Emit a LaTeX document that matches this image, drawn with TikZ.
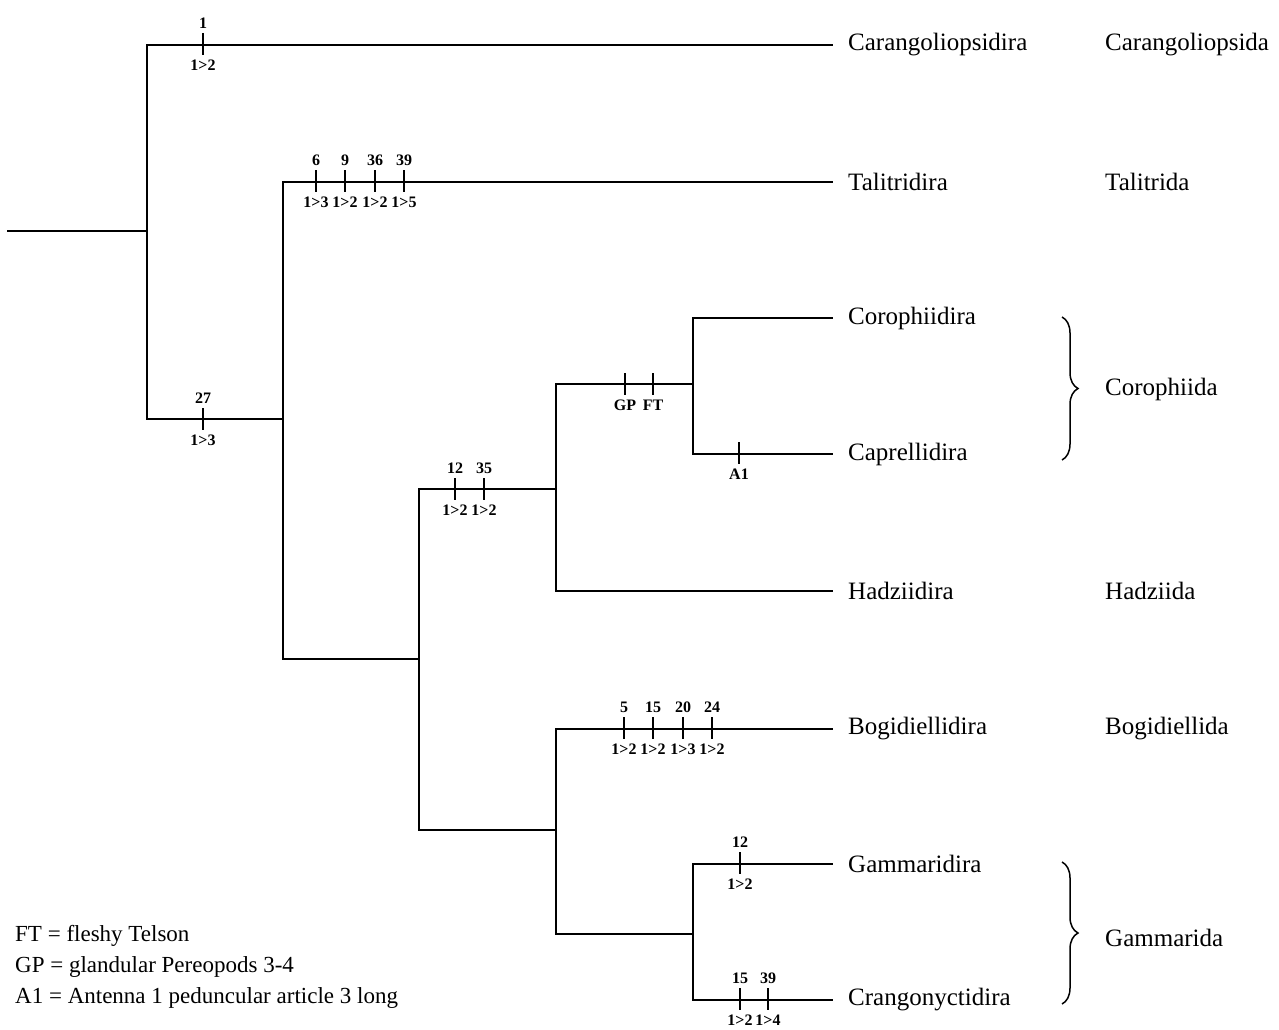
\documentclass[tikz,border=0pt]{standalone}
\usepackage{fontspec}
\setmainfont{Liberation Serif}
\usetikzlibrary{decorations.pathreplacing}
\tikzset{
  branch/.style={line width=2pt, line cap=rect},
  tickline/.style={line width=1.7pt},
  leaf/.style={anchor=west, inner xsep=16pt, inner ysep=0pt, font=\fontsize{25}{29}\selectfont},
  grp/.style={anchor=west, inner sep=0pt, font=\fontsize{25}{29}\selectfont},
  lab/.style={inner xsep=0pt, inner ysep=4.5pt, font=\fontsize{16}{18}\selectfont\bfseries},
  legend/.style={anchor=west, inner sep=0pt, font=\fontsize{23}{27}\selectfont},
  bracegrp/.style={decorate, decoration={brace, amplitude=16pt}, line width=1.5pt},
}
\newcommand\mytick[5]{%
  \draw[tickline] (#2,#3-11) -- (#2,#3+11);
  \node[lab, anchor=south] (#1a) at (#2,#3-11) {#4};
  \node[lab, anchor=north] (#1b) at (#2,#3+11) {#5};
}
\begin{document}
\begin{tikzpicture}[x=1pt, y=-1pt]
\useasboundingbox (0,0) rectangle (1279,1030);

% internal nodes
\coordinate (root) at (8,231);
\coordinate (n1) at (147,231);
\coordinate (n2) at (283,419);
\coordinate (n3) at (419,659);
\coordinate (n4) at (556,489);
\coordinate (n5) at (693,384);
\coordinate (n7) at (556,830);
\coordinate (n8) at (693,934);

% leaves
\node[leaf] (car) at (832,45) {Carangoliopsidira};
\node[leaf] (tal) at (832,182) {Talitridira};
\node[leaf] (cor) at (832,318) {Corophiidira};
\node[leaf] (cap) at (832,454) {Caprellidira};
\node[leaf] (had) at (832,591) {Hadziidira};
\node[leaf] (bog) at (832,729) {Bogidiellidira};
\node[leaf] (gam) at (832,864) {Gammaridira};
\node[leaf] (cra) at (832,1000) {Crangonyctidira};

% branches
\draw[branch] (root) -- (n1);
\draw[branch] (n1) |- (car.west);
\draw[branch] (n1) |- (n2);
\draw[branch] (n2) |- (tal.west);
\draw[branch] (n2) |- (n3);
\draw[branch] (n3) |- (n4);
\draw[branch] (n3) |- (n7);
\draw[branch] (n4) |- (n5);
\draw[branch] (n4) |- (had.west);
\draw[branch] (n5) |- (cor.west);
\draw[branch] (n5) |- (cap.west);
\draw[branch] (n7) |- (bog.west);
\draw[branch] (n7) |- (n8);
\draw[branch] (n8) |- (gam.west);
\draw[branch] (n8) |- (cra.west);

% character ticks
\mytick{t1}{203}{44}{1}{1>2}
\mytick{t2}{203}{419}{27}{1>3}
\mytick{t3}{316}{181}{6}{1>3}
\mytick{t4}{345}{181}{9}{1>2}
\mytick{t5}{375}{181}{36}{1>2}
\mytick{t6}{404}{181}{39}{1>5}
\mytick{t7}{455}{489}{12}{1>2}
\mytick{t8}{484}{489}{35}{1>2}
\mytick{t9}{625}{384}{}{GP}
\mytick{t10}{653}{384}{}{FT}
\mytick{t11}{739}{453}{}{A1}
\mytick{t12}{624}{728}{5}{1>2}
\mytick{t13}{653}{728}{15}{1>2}
\mytick{t14}{683}{728}{20}{1>3}
\mytick{t15}{712}{728}{24}{1>2}
\mytick{t16}{740}{863}{12}{1>2}
\mytick{t17}{740}{999}{15}{1>2}
\mytick{t18}{768}{999}{39}{1>4}

% group names
\node[grp] (gcar) at (1105,45) {Carangoliopsida};
\node[grp] (gtal) at (1105,182) {Talitrida};
\node[grp] (gcor) at (1105,389) {Corophiida};
\node[grp] (ghad) at (1105,591) {Hadziida};
\node[grp] (gbog) at (1105,729) {Bogidiellida};
\node[grp] (ggam) at (1105,938) {Gammarida};

% braces
\draw[bracegrp] (1062,317) -- (1062,460);
\draw[bracegrp] (1062,862) -- (1062,1004);

% legend
\node[legend] (l1) at (15,936) {FT = fleshy Telson};
\node[legend] (l2) at (15,967) {GP = glandular Pereopods 3-4};
\node[legend] (l3) at (15,998) {A1 = Antenna 1 peduncular article 3 long};
\end{tikzpicture}
\end{document}
